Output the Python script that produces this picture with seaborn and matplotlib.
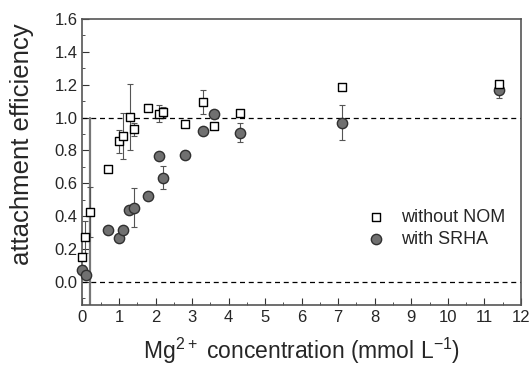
import matplotlib
matplotlib.use("Agg")
import matplotlib.pyplot as plt
import seaborn as sns
import pandas as pd
import numpy as np
from matplotlib.ticker import MultipleLocator

# without NOM
x_nom = [0.0, 0.06, 0.2, 0.7, 1.0, 1.1, 1.3, 1.41, 1.8, 2.09, 2.2, 2.8, 3.3, 3.6, 4.31, 7.1, 11.4]
y_nom = [0.152, 0.274, 0.426, 0.69, 0.856, 0.886, 1.004, 0.929, 1.061, 1.024, 1.034, 0.963, 1.095, 0.947, 1.028, 1.186, 1.203]
e_nom = [0.02, 0.1, 0.15, 0.0, 0.07, 0.14, 0.2, 0.04, 0.02, 0.05, 0.03, 0.0, 0.075, 0.0, 0.02, 0.0, 0.02]

# with SRHA
x_srha = [0.0, 0.09, 0.7, 1.0, 1.1, 1.28, 1.41, 1.8, 2.09, 2.2, 2.8, 3.3, 3.6, 4.31, 7.1, 11.4]
y_srha = [0.071, 0.041, 0.314, 0.268, 0.314, 0.436, 0.452, 0.523, 0.765, 0.633, 0.775, 0.917, 1.020, 0.909, 0.970, 1.17]
e_srha = [0.03, 0.02, 0.0, 0.0, 0.0, 0.0, 0.12, 0.0, 0.0, 0.07, 0.02, 0.0, 0.0, 0.06, 0.105, 0.05]

sns.set_style("ticks")
plt.rcParams['font.family'] = ['Liberation Sans', 'DejaVu Sans']
plt.rcParams['mathtext.fontset'] = 'custom'
plt.rcParams['mathtext.rm'] = 'Liberation Sans'
plt.rcParams['mathtext.default'] = 'regular'

df_nom = pd.DataFrame({"x": x_nom, "y": y_nom, "e": e_nom})
df_srha = pd.DataFrame({"x": x_srha, "y": y_srha, "e": e_srha})

fig = plt.figure(figsize=(5.32, 3.72), dpi=100)
ax = fig.add_axes([0.155, 0.18, 0.824, 0.769])

ax.axhline(1.0, color="black", ls=(0, (4, 3)), lw=0.9, zorder=1)
ax.axhline(0.0, color="black", ls=(0, (4, 3)), lw=0.9, zorder=1)
ax.plot([0.2, 0.2], [-0.14, 1.0], color="#777777", lw=1.6, zorder=1)

ax.errorbar(df_srha["x"], df_srha["y"], yerr=df_srha["e"], fmt="none",
            ecolor="#555555", elinewidth=0.8, capsize=2.5, capthick=0.8, zorder=2)
ax.errorbar(df_nom["x"], df_nom["y"], yerr=df_nom["e"], fmt="none",
            ecolor="#555555", elinewidth=0.8, capsize=2.5, capthick=0.8, zorder=2)

sns.scatterplot(data=df_srha, x="x", y="y", ax=ax, marker="o", s=55,
                color="#707070", edgecolor="#303030", linewidth=1.0,
                label="with SRHA", zorder=3, clip_on=False)
sns.scatterplot(data=df_nom, x="x", y="y", ax=ax, marker="s", s=40,
                color="white", edgecolor="black", linewidth=1.0,
                label="without NOM", zorder=4, clip_on=False)

ax.set_xlim(0, 12)
ax.set_ylim(-0.14, 1.6)
ax.xaxis.set_major_locator(MultipleLocator(1))
ax.xaxis.set_minor_locator(MultipleLocator(0.5))
ax.yaxis.set_major_locator(MultipleLocator(0.2))
ax.yaxis.set_minor_locator(MultipleLocator(0.1))
ax.set_yticks(np.arange(0, 1.61, 0.2))
ax.set_yticklabels([f"{v:.1f}" for v in np.arange(0, 1.61, 0.2)])
ax.tick_params(which="both", direction="in", top=False, right=False,
               labelsize=12, color="#333333")
ax.tick_params(which="major", length=5)
ax.tick_params(which="minor", length=2.5)
for sp in ax.spines.values():
    sp.set_color("#555555")
    sp.set_linewidth(1.2)

ax.set_xlabel(r"Mg$^{2+}$ concentration (mmol L$^{-1}$)", fontsize=16.5, labelpad=8)
ax.set_ylabel("attachment efficiency", fontsize=18.5)
ax.yaxis.set_label_coords(-0.11, 0.563)

h, l = ax.get_legend_handles_labels()
order = [l.index("without NOM"), l.index("with SRHA")]
ax.legend([h[i] for i in order], [l[i] for i in order], frameon=False,
          loc="center left", bbox_to_anchor=(0.649, 0.267), fontsize=13,
          borderpad=0, borderaxespad=0, handlelength=1.0,
          handletextpad=0.9, labelspacing=0.28)

fig.savefig("out.png", dpi=100)
